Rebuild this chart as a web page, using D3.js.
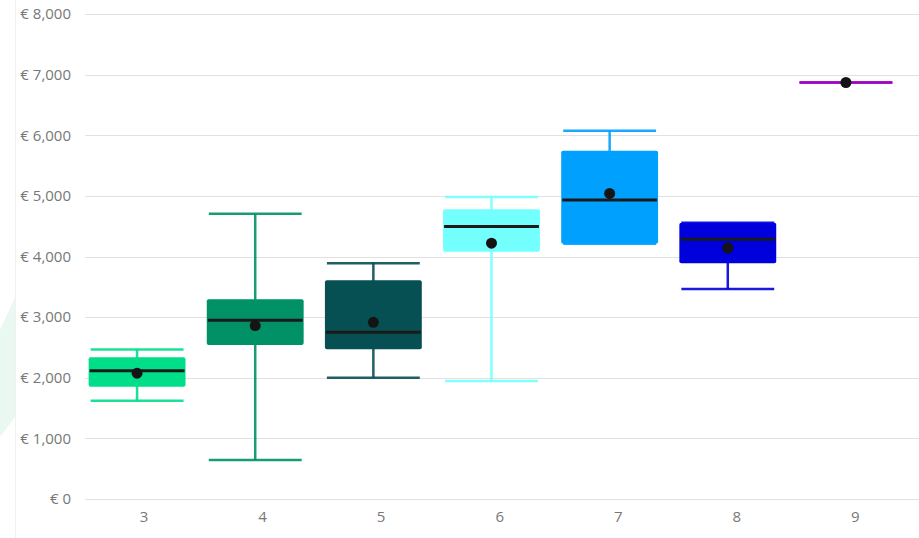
<!DOCTYPE html>
<html>
<head>
<meta charset="utf-8">
<script src="https://cdn.jsdelivr.net/npm/d3@7"></script>
<style>
  body { margin: 0; background: #fff; }
  text { font-family: "Open Sans", "Segoe UI", sans-serif; }
</style>
</head>
<body>
<div id="chart"></div>
<script>
// box plot data, one entry per category
var categories = ["3", "4", "5", "6", "7", "8", "9"];
var mins    = [1620,  645, 2000, 1945, 4210, 3465, 6870];
var q1s     = [1850, 2540, 2470, 4080, 4210, 3890, 6870];
var medians = [2115, 2950, 2750, 4495, 4930, 4285, 6870];
var q3s     = [2340, 3295, 3610, 4780, 5745, 4555, 6870];
var maxs    = [2465, 4705, 3890, 4980, 6075, 4555, 6870];
var means   = [2075, 2860, 2915, 4220, 5040, 4140, 6870];
var colors  = ["#00DE89", "#009166", "#064F52", "#74FFFF", "#00A0FF", "#0000DC", "#9C00C0"];
var yTicks  = [0, 1000, 2000, 3000, 4000, 5000, 6000, 7000, 8000];

var width = 919, height = 538;

var svg = d3.select("#chart").append("svg")
  .attr("width", width)
  .attr("height", height);

// faint panel decoration on the left
svg.append("path")
  .attr("d", "M0,330 L15,297 L15,417 L0,437 Z")
  .style("fill", "#e9f9f1");
svg.append("line")
  .attr("x1", 15.5).attr("x2", 15.5)
  .attr("y1", 0).attr("y2", height)
  .style("stroke", "#f1f1f1");

var x = d3.scaleBand()
  .domain(categories)
  .range([78, 905])
  .paddingInner(0.18)
  .paddingOuter(0.09);

var y = d3.scaleLinear()
  .domain([0, 8000])
  .range([499, 14]);

// gridlines
svg.append("g")
  .selectAll("line")
  .data(yTicks)
  .enter().append("line")
  .attr("x1", 85).attr("x2", width)
  .attr("y1", function(d) { return Math.round(y(d)) + 0.5; })
  .attr("y2", function(d) { return Math.round(y(d)) + 0.5; })
  .style("stroke", "#e1e1e1")
  .style("stroke-width", 1.2);

// y axis labels
svg.append("g")
  .selectAll("text")
  .data(yTicks)
  .enter().append("text")
  .attr("x", 71)
  .attr("y", function(d) { return y(d); })
  .attr("dy", "0.35em")
  .attr("text-anchor", "end")
  .attr("font-size", 15)
  .style("fill", "#777")
  .text(function(d) { return "\u20ac " + d3.format(",")(d); });

// x axis labels (sit a little right of the box centres)
svg.append("g")
  .selectAll("text")
  .data(categories)
  .enter().append("text")
  .attr("x", function(d, i) { return x(d) + x.bandwidth() / 2 + 7 + i * 0.4; })
  .attr("y", 517)
  .attr("dy", "0.35em")
  .attr("text-anchor", "middle")
  .attr("font-size", 15)
  .style("fill", "#777")
  .text(function(d) { return d; });

var data = categories.map(function(c, i) {
  return { cat: c, min: mins[i], q1: q1s[i], med: medians[i], q3: q3s[i], max: maxs[i], mean: means[i], color: colors[i] };
});

var g = svg.selectAll(".box")
  .data(data)
  .enter().append("g")
  .attr("class", "box");

var bw = x.bandwidth();
function cx(d) { return x(d.cat) + bw / 2; }

// whiskers
g.append("line")
  .attr("x1", cx).attr("x2", cx)
  .attr("y1", function(d) { return y(d.max); })
  .attr("y2", function(d) { return y(d.min); })
  .style("stroke", function(d) { return d.color; })
  .style("stroke-opacity", 0.9)
  .style("stroke-width", 2.5);

// caps
["min", "max"].forEach(function(k) {
  g.append("line")
    .attr("x1", function(d) { return cx(d) - bw / 2 + 2; })
    .attr("x2", function(d) { return cx(d) + bw / 2 - 2; })
    .attr("y1", function(d) { return y(d[k]); })
    .attr("y2", function(d) { return y(d[k]); })
    .style("stroke", function(d) { return d.color; })
    .style("stroke-opacity", 0.9)
    .style("stroke-width", 2.5);
});

// boxes
g.filter(function(d) { return d.q3 > d.q1; })
  .append("rect")
  .attr("x", function(d) { return x(d.cat); })
  .attr("width", bw)
  .attr("y", function(d) { return y(d.q3); })
  .attr("height", function(d) { return y(d.q1) - y(d.q3); })
  .attr("rx", 2)
  .style("fill", function(d) { return d.color; });

// medians
g.filter(function(d) { return d.q3 > d.q1; })
  .append("line")
  .attr("x1", function(d) { return x(d.cat) + 1; })
  .attr("x2", function(d) { return x(d.cat) + bw - 1; })
  .attr("y1", function(d) { return y(d.med); })
  .attr("y2", function(d) { return y(d.med); })
  .style("stroke", "#1a1a1a")
  .style("stroke-width", 3);

// means
g.append("circle")
  .attr("cx", cx)
  .attr("cy", function(d) { return y(d.mean); })
  .attr("r", 5.5)
  .style("fill", "#141414");
</script>
</body>
</html>
